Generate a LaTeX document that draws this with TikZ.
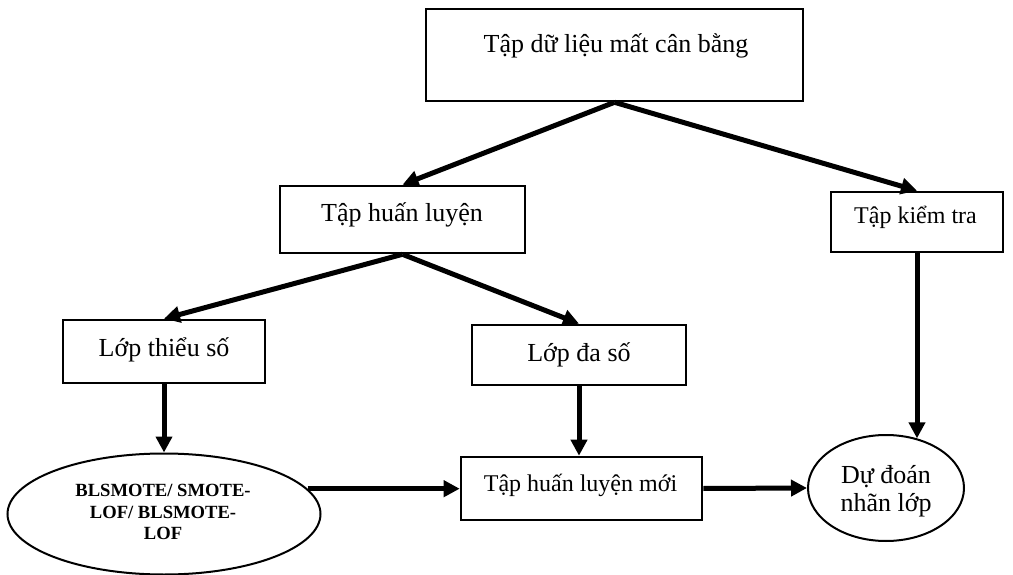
\documentclass[tikz,border=0pt]{standalone}
\usepackage{fontspec}
\setmainfont{Liberation Serif}
\usetikzlibrary{arrows.meta,shapes.geometric}
\begin{document}
\begin{tikzpicture}[x=1pt,y=-1pt,
  boxnode/.style={draw,line width=2.6pt,inner sep=0pt,rectangle},
  ovalnode/.style={draw,line width=2pt,inner sep=0pt,ellipse},
  bigtext/.style={font=\fontsize{26}{28}\selectfont,inner sep=0pt,anchor=base},
  midtext/.style={font=\fontsize{24}{27}\selectfont,inner sep=0pt,anchor=base},
  flow/.style={line width=5pt,-{Triangle[length=16pt,width=16pt]}}]
\fill[white] (0,0) rectangle (1013,575);
\useasboundingbox (0,0) rectangle (1013,575);
% boxes
\node[boxnode,minimum width=377pt,minimum height=92pt] (top) at (614.5,55) {};
\node[boxnode,minimum width=245pt,minimum height=67pt] (train) at (402.5,219.5) {};
\node[boxnode,minimum width=172pt,minimum height=60pt] (test) at (917,222) {};
\node[boxnode,minimum width=202pt,minimum height=63pt] (minor) at (164,351.5) {};
\node[boxnode,minimum width=214pt,minimum height=60pt] (major) at (579,355) {};
\node[boxnode,minimum width=241pt,minimum height=63pt] (newtrain) at (581.5,488.5) {};
\node[ovalnode,minimum width=313pt,minimum height=121pt] (ovl) at (164,514) {};
\node[ovalnode,minimum width=156pt,minimum height=106pt] (pred) at (886,488) {};
% texts
\node[bigtext] (ttop) at (616,53) {Tập dữ liệu mất cân bằng};
\node[bigtext] (ttrain) at (402,222) {Tập huấn luyện};
\node[midtext] (ttest) at (915.5,224) {Tập kiểm tra};
\node[bigtext] (tminor) at (164,356) {Lớp thiểu số};
\node[bigtext] (tmajor) at (579,361) {Lớp đa số};
\node[midtext] (tnew) at (580.5,491) {Tập huấn luyện mới};
\node[font=\fontsize{18.6}{21.5}\selectfont\bfseries,align=center,inner sep=0pt] (tovl) at (163,512) {BLSMOTE/ SMOTE-\\LOF/ BLSMOTE-\\LOF};
\node[font=\fontsize{26}{28}\selectfont,align=center,inner sep=0pt] (tpred) at (886,491) {Dự đoán\\nhãn lớp};
% connectors
\draw[flow] (top.south) -- (train.north);
\draw[flow] (top.south) -- (test.north);
\draw[flow] (train.south) -- (minor.north);
\draw[flow] (train.south) -- (major.north);
\draw[flow] (minor.south) -- (ovl.north);
\draw[flow] (major.south) -- (major.south |- newtrain.north);
\draw[flow] (test.south) -- (test.south |- pred.58);
\draw[flow] (ovl.10) -- (ovl.10 -| newtrain.west);
\draw[flow] (newtrain.east) -- (pred.west);
\end{tikzpicture}
\end{document}
